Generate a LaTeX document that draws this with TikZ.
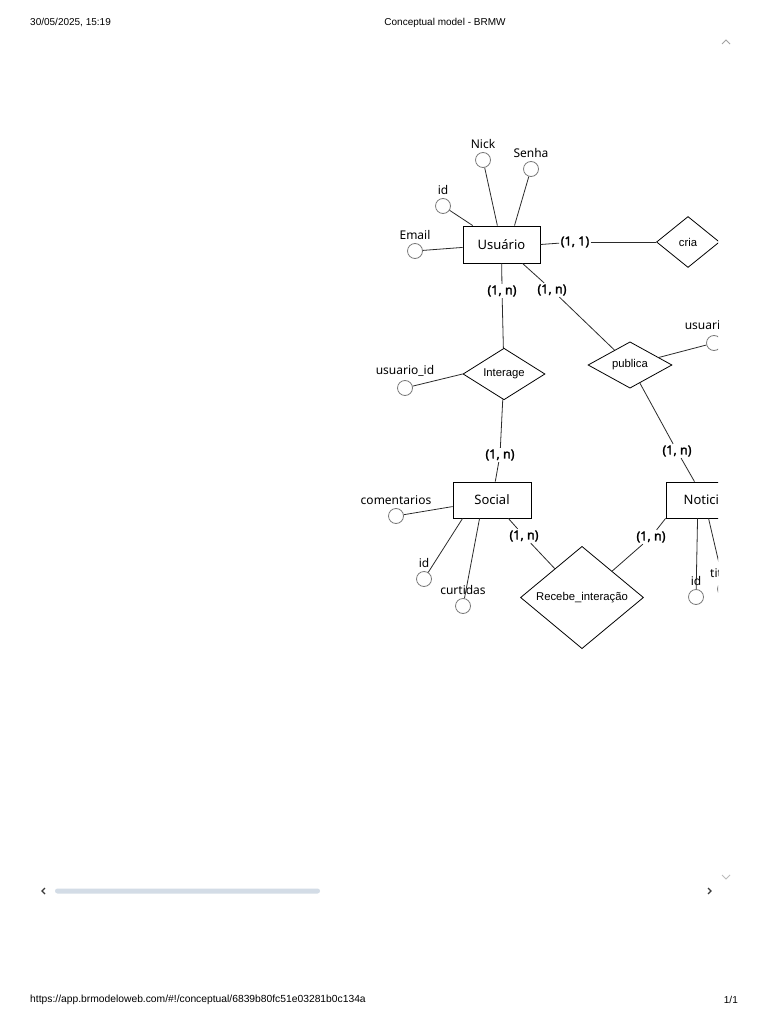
\documentclass[tikz,border=0pt]{standalone}
\usepackage{fontspec}
\setmainfont{Noto Sans}[AutoFakeBold=2]
\newfontfamily\arialfont{Liberation Sans}
\usetikzlibrary{shapes.geometric}
\definecolor{BRGray}{HTML}{7A7A7A}
\definecolor{BRLine}{HTML}{2B2B2B}
\definecolor{BRScroll}{HTML}{D3DCE6}
\definecolor{BRArrow}{HTML}{3A3A3A}

\begin{document}
\begin{tikzpicture}[
  x=1pt, y=-1pt,
  font=\fontsize{12}{14}\selectfont,
  entity/.style={draw=black, fill=white, line width=0.9pt, minimum width=77pt, minimum height=37pt, inner sep=0pt, font=\fontsize{13}{15}\selectfont},
  attr/.style={circle, draw=BRGray, fill=white, line width=0.8pt, minimum size=15pt, inner sep=0pt, label distance=-4pt},
  rel/.style={diamond, draw=black, fill=white, line width=0.8pt, inner sep=0pt, font=\arialfont\fontsize{11.3}{13}\selectfont},
  card/.style={inner sep=1.5pt, font=\fontsize{12.5}{14}\selectfont\bfseries},
  link/.style={draw=BRLine, line width=0.8pt},
  page/.style={font=\arialfont\fontsize{10}{12}\selectfont, inner sep=0pt}
]
\useasboundingbox[fill=white] (0,0) rectangle (768,1024);

% header and footer of the printed page
\node[page, anchor=west] (date) at (30,23) {30/05/2025, 15:19};
\node[page] (title) at (445,23) {Conceptual model - BRMW};
\node[page, anchor=west, font=\arialfont\fontsize{10.3}{12}\selectfont] (url) at (30,1000) {https://app.brmodeloweb.com/\#!/conceptual/6839b80fc51e03281b0c134a};
\node[page, anchor=east] (pages) at (738,1000) {1/1};

% scroll controls
\draw[BRGray!70, line width=0.8pt] (722,44) -- (726,40) -- (730,44);
\draw[BRGray!50, line width=0.8pt] (722,875) -- (726,879) -- (730,875);
\draw[BRArrow, line width=1.2pt] (45,888) -- (42,891) -- (45,894);
\draw[BRArrow, line width=1.2pt] (708,888) -- (711,891) -- (708,894);
\fill[BRScroll, rounded corners=2.5pt] (55,888.5) rectangle (320,893.5);

\begin{scope}
\clip (0,50) rectangle (718,870);

% entities
\node[entity] (usuario) at (501.5,244.5) {Usuário};
\node[entity, minimum width=78pt, minimum height=36pt] (social) at (492,500) {Social};
\node[entity, minimum width=78pt, minimum height=36pt] (noticia) at (705,500) {Noticia};

% relationships
\node[rel, minimum width=63pt, minimum height=51pt] (cria) at (688,242) {cria};
\node[rel, minimum width=82pt, minimum height=42pt] (interage) at (504,374) {Interage};
\node[rel, minimum width=84pt, minimum height=42pt] (publica) at (630,365) {publica};
\node[rel, minimum width=123pt, minimum height=87pt] (recebe) at (582,597.5) {Recebe\_interação};

% attributes
\node[attr, label=above:Email] (email) at (415,251) {};
\node[attr, label=above:id] (uid) at (443,206) {};
\node[attr, label=above:Nick] (nick) at (483,160) {};
\node[attr, label=above:Senha] (senha) at (531,169) {};
\node[attr, label=above:usuario\_id] (iuid) at (405,388) {};
\node[attr, label=above:usuario\_id] (puid) at (714,343) {};
\node[attr, label=above:comentarios] (coment) at (396,516) {};
\node[attr, label=above:id] (sid) at (424,579) {};
\node[attr, label=above:curtidas] (curt) at (463,606) {};
\node[attr, label=above:id] (nid) at (696,597) {};
\node[attr, label=above:titulo] (ntit) at (725,589) {};

% cardinalities
\node[card] (c11) at (575,242) {(1, 1)};
\node[card] (cui) at (502,291) {(1, n)};
\node[card] (cup) at (552,290) {(1, n)};
\node[card] (cis) at (500,455) {(1, n)};
\node[card] (cpn) at (677,451) {(1, n)};
\node[card] (csr) at (524,536) {(1, n)};
\node[card] (cnr) at (651,537) {(1, n)};

% attribute links
\draw[link] (email) -- (usuario);
\draw[link] (uid) -- (usuario);
\draw[link] (nick) -- (usuario);
\draw[link] (senha) -- ([xshift=13pt]usuario.north);
\draw[link] (iuid) -- (interage.west);
\draw[link] (publica) -- (puid);
\draw[link] (coment) -- (social);
\draw[link] (sid) -- ([xshift=10pt]social.south west);
\draw[link] (curt) -- ([xshift=27pt]social.south west);
\draw[link] (nid) -- ([xshift=32pt]noticia.south west);
\draw[link] (ntit) -- ([xshift=43pt]noticia.south west);

% relationship links
\draw[link] (usuario.east) -- (c11);
\draw[link] (c11) -- (cria);
\draw[link] (usuario) -- (cui);
\draw[link] (cui) -- (interage);
\draw[link] (usuario) -- (cup);
\draw[link] (cup) -- (publica);
\draw[link] (interage) -- (cis);
\draw[link] (cis) -- (social);
\draw[link] (publica) -- (cpn);
\draw[link] (cpn) -- (noticia);
\draw[link] (social) -- (csr);
\draw[link] (csr) -- (recebe);
\draw[link] (noticia.south west) -- (cnr);
\draw[link] (cnr) -- (recebe);
\end{scope}
\end{tikzpicture}
\end{document}
